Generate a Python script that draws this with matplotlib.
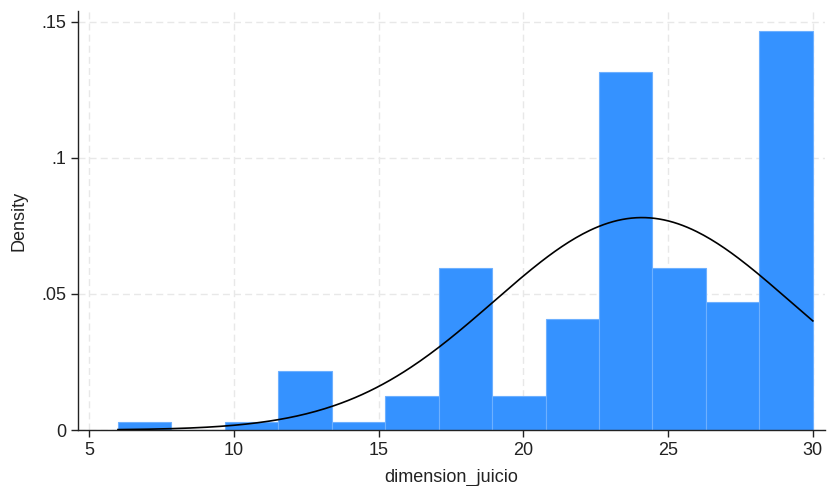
import numpy as np
import matplotlib
matplotlib.use('Agg')
import matplotlib.pyplot as plt

# histogram: 13 bins from 6 to 30
bin_lo = 6.0
bin_hi = 30.0
nbins = 13
density = [0.0030, 0.0, 0.0030, 0.0217, 0.0030, 0.0125, 0.0597,
           0.0125, 0.0407, 0.1317, 0.0597, 0.0470, 0.1467]

# fitted normal curve
mu = 24.1
sigma = 5.11

xticks = [5, 10, 15, 20, 25, 30]
yticks = [0, 0.05, 0.10, 0.15]
ylabels = ['0', '.05', '.1', '.15']

plt.rcParams['font.family'] = ['Liberation Sans', 'DejaVu Sans']

fig = plt.figure(figsize=(8.28, 4.86), dpi=100)
ax = fig.add_axes([78/828, 56/486, 747/828, 419/486])

edges = np.linspace(bin_lo, bin_hi, nbins + 1)
ax.bar(edges[:-1], density, width=np.diff(edges), align='edge',
       color='#3592ff', edgecolor='#6db0ff', linewidth=0.8, zorder=2)

xx = np.linspace(bin_lo, bin_hi, 300)
yy = np.exp(-(xx - mu)**2 / (2 * sigma**2)) / (sigma * np.sqrt(2 * np.pi))
ax.plot(xx, yy, color='black', lw=1.2, zorder=3)

ax.set_xlim(4.62, 30.42)
ax.set_ylim(0, 0.154)
ax.set_xticks(xticks)
ax.set_yticks(yticks)
ax.set_yticklabels(ylabels)
ax.grid(True, color='#e8e8e8', linestyle=(0, (5, 3)), linewidth=1.0, zorder=0)
ax.set_axisbelow(True)

for s in ['top', 'right']:
    ax.spines[s].set_visible(False)
for s in ['left', 'bottom']:
    ax.spines[s].set_linewidth(1.0)
    ax.spines[s].set_color('#222222')
ax.tick_params(direction='out', length=5, width=1.0, colors='#222222',
               labelsize=13, labelcolor='#222222')

ax.set_xlabel('dimension_juicio', fontsize=13, color='#222222', labelpad=7)
ax.set_ylabel('Density', fontsize=13, color='#222222', labelpad=10)

fig.savefig('out.png', dpi=100)
